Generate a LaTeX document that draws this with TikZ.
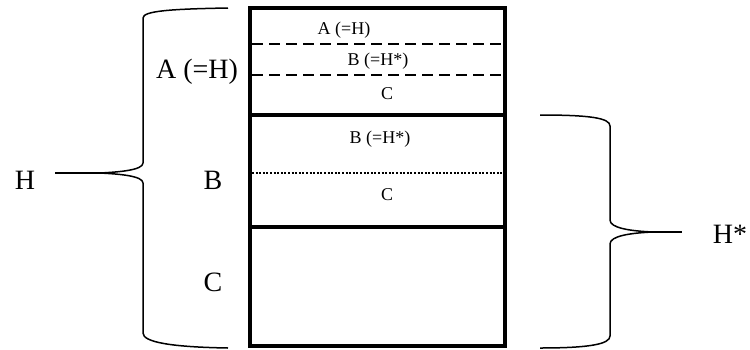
\documentclass[tikz,border=0pt]{standalone}
\usepackage{fontspec}
\setmainfont{Liberation Serif}
\tikzset{
  biglabel/.style={font=\fontsize{28}{32}\selectfont, inner sep=0pt},
  smalllabel/.style={font=\fontsize{18}{21}\selectfont, inner sep=0pt},
  layerline/.style={line width=3.2pt},
  splitline/.style={line width=2.6pt, dash pattern=on 11pt off 6pt},
  dotline/.style={line width=2.2pt, dash pattern=on 2pt off 1.6pt},
  bracepath/.style={line width=1.5pt}
}
\begin{document}
\begin{tikzpicture}[x=1pt, y=-1pt]
\useasboundingbox (0,0) rectangle (750,349);
% stack of layers
\draw[line width=4.5pt] (250,8) rectangle (505,346);
\draw[layerline] (250,115) -- (505,115);
\draw[layerline] (250,227) -- (505,227);
\draw[splitline] (252,44) -- (505,44);
\draw[splitline] (252,75) -- (505,75);
\draw[dotline] (252,173) -- (505,173);
% texts inside the stack
\node[smalllabel] (innerA) at (344,30) {A (=H)};
\node[smalllabel] (innerB) at (378,61) {B (=H*)};
\node[smalllabel] (innerC) at (387,94) {C};
\node[smalllabel] (midB) at (380,139) {B (=H*)};
\node[smalllabel] (midC) at (387,195) {C};
% texts on the left
\node[biglabel] (labA) at (197,72) {A (=H)};
\node[biglabel] (labB) at (213,180) {B};
\node[biglabel] (labC) at (213,282) {C};
\node[biglabel] (labH) at (25,180) {H};
\node[biglabel] (labHs) at (730,234) {H*};
% braces
\coordinate (tipH) at (100,173);
\coordinate (endH) at (55,173);
\coordinate (tipHs) at (653,232);
\coordinate (endHs) at (682,232);
\draw[bracepath] (228,8) .. controls (170,9) and (143,11) .. (143,18) -- (143,163)
  .. controls (143,170) and (120,172) .. (tipH)
  .. controls (120,174) and (143,176) .. (143,183) -- (143,333)
  .. controls (143,342) and (170,347) .. (228,348);
\draw[bracepath] (tipH) -- (endH);
\draw[bracepath] (540,115) .. controls (590,115) and (610,118) .. (610,126) -- (610,220)
  .. controls (610,228) and (630,231) .. (tipHs)
  .. controls (630,233) and (610,236) .. (610,244) -- (610,336)
  .. controls (610,344) and (590,348) .. (540,348);
\draw[bracepath] (tipHs) -- (endHs);
\end{tikzpicture}
\end{document}
